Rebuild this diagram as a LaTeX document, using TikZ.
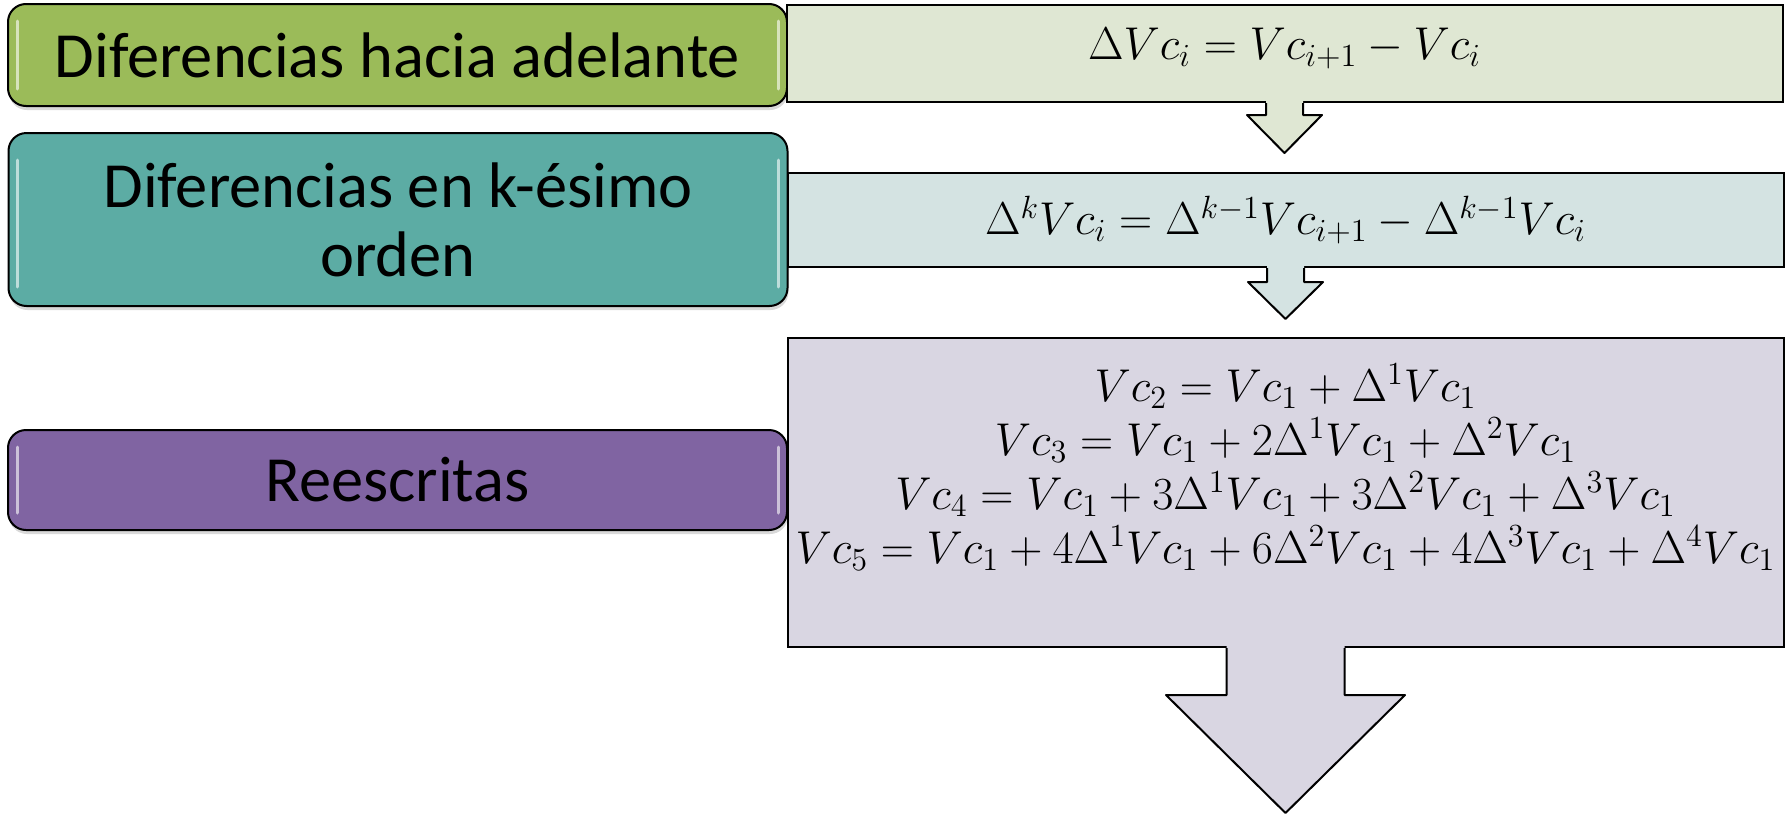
\RequirePackage{fix-cm}
\documentclass[tikz,border=0pt]{standalone}
\usepackage{amsmath}
\usepackage[no-math]{fontspec}
\setmainfont{Carlito}
\usepackage{tikz}
\usetikzlibrary{calc}
\usetikzlibrary{shadows}

\definecolor{olivebox}{HTML}{9BBB59}
\definecolor{olivepale}{HTML}{DFE7D3}
\definecolor{tealbox}{HTML}{5CACA4}
\definecolor{tealpale}{HTML}{D4E3E2}
\definecolor{purplebox}{HTML}{8064A2}
\definecolor{purplepale}{HTML}{D9D6E2}

\begin{document}
\begin{tikzpicture}[x=0.5pt,y=-0.5pt,
    titlebox/.style={draw=black, line width=1pt, rounded corners=9pt, inner sep=0pt,
      minimum width=389.5pt, align=center, font=\fontsize{32.2}{34.5}\selectfont,
      drop shadow={opacity=0.3, shadow xshift=0.5pt, shadow yshift=-2pt}},
    formbox/.style={draw=black, line width=1pt, inner sep=0pt,
      minimum width=498pt, font=\fontsize{23}{27}\selectfont},
    gloss/.style={white, opacity=0.6, line width=1.5pt, line cap=round}]
  \useasboundingbox (0,0) rectangle (1785,814);

  % left column
  \node[titlebox, fill=olivebox, minimum height=51pt] (adelante) at (397.5,55) {Diferencias hacia adelante};
  \node[titlebox, fill=tealbox, minimum height=86.5pt] (korden) at (398,219.5) {Diferencias en k-ésimo\\orden};
  \node[titlebox, fill=purplebox, minimum height=50pt] (reescritas) at (397.5,480) {Reescritas};
  \draw[gloss] ([xshift=5pt,yshift=-9pt]adelante.north west) -- ([xshift=5pt,yshift=9pt]adelante.south west);
  \draw[gloss] ([xshift=-5pt,yshift=-9pt]adelante.north east) -- ([xshift=-5pt,yshift=9pt]adelante.south east);
  \draw[gloss] ([xshift=5pt,yshift=-14pt]korden.north west) -- ([xshift=5pt,yshift=10pt]korden.south west);
  \draw[gloss] ([xshift=-5pt,yshift=-14pt]korden.north east) -- ([xshift=-5pt,yshift=10pt]korden.south east);
  \draw[gloss] ([xshift=5pt,yshift=-9pt]reescritas.north west) -- ([xshift=5pt,yshift=9pt]reescritas.south west);
  \draw[gloss] ([xshift=-5pt,yshift=-9pt]reescritas.north east) -- ([xshift=-5pt,yshift=9pt]reescritas.south east);

  % right column
  \node[formbox, fill=olivepale, minimum height=48.5pt] (eq1) at (1284.5,53.5) {};
  \node[font=\fontsize{23}{27}\selectfont, inner sep=0pt] (eqa) at ($(eq1.center)+(0,-5)$)
    {$\Delta Vc_i = Vc_{i+1} - Vc_i$};
  \node[formbox, fill=tealpale, minimum height=47pt] (eq2) at (1285.5,220)
    {$\Delta^k Vc_i = \Delta^{k-1} Vc_{i+1} - \Delta^{k-1} Vc_i$};
  \node[formbox, fill=purplepale, minimum height=154.5pt] (eq3) at (1285.5,492.5) {};
  \node[font=\fontsize{23}{27}\selectfont, align=center, inner sep=0pt]
    (eqs) at ($(eq3.north)+(0,130)$)
    {$Vc_2 = Vc_1 + \Delta^1 Vc_1$\\
     $Vc_3 = Vc_1 + 2\Delta^1 Vc_1 + \Delta^2 Vc_1$\\
     $Vc_4 = Vc_1 + 3\Delta^1 Vc_1 + 3\Delta^2 Vc_1 + \Delta^3 Vc_1$\\
     $Vc_5 = Vc_1 + 4\Delta^1 Vc_1 + 6\Delta^2 Vc_1 + 4\Delta^3 Vc_1 + \Delta^4 Vc_1$};

  % block arrows
  \coordinate (a1) at (eq1.south);
  \coordinate (a2) at (eq2.south);
  \coordinate (a3) at (eq3.south);
  \fill[olivepale] (a1) ++(-18.5,-3) -- ++(0,15) -- ++(-19,0) -- ++(37.5,38) -- ++(37.5,-38) -- ++(-19,0) -- ++(0,-15) -- cycle;
  \draw[line width=1pt, line join=round] (a1) ++(-18.5,0) -- ++(0,12) -- ++(-19,0) -- ++(37.5,38) -- ++(37.5,-38) -- ++(-19,0) -- ++(0,-12);
  \fill[tealpale] (a2) ++(-18.5,-3) -- ++(0,17) -- ++(-19,0) -- ++(37.5,37) -- ++(37.5,-37) -- ++(-19,0) -- ++(0,-17) -- cycle;
  \draw[line width=1pt, line join=round] (a2) ++(-18.5,0) -- ++(0,14) -- ++(-19,0) -- ++(37.5,37) -- ++(37.5,-37) -- ++(-19,0) -- ++(0,-14);
  \fill[purplepale] (a3) ++(-59,-3) -- ++(0,50) -- ++(-60.5,0) -- ++(119.5,118) -- ++(119.5,-118) -- ++(-60.5,0) -- ++(0,-50) -- cycle;
  \draw[line width=1pt, line join=round] (a3) ++(-59,0) -- ++(0,47) -- ++(-60.5,0) -- ++(119.5,118) -- ++(119.5,-118) -- ++(-60.5,0) -- ++(0,-47);
\end{tikzpicture}
\end{document}
